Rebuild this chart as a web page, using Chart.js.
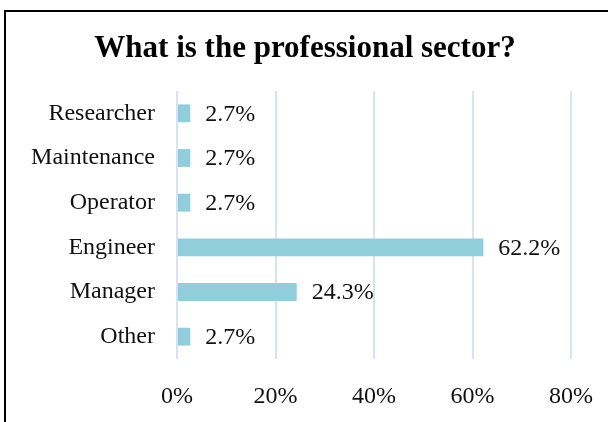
<!DOCTYPE html>
<html>
<head>
<meta charset="utf-8">
<script src="https://cdn.jsdelivr.net/npm/chart.js@4"></script>
<style>
    html, body {
        margin: 0;
        padding: 0;
        background: #ffffff;
        overflow: hidden;
    }
    #frame {
        position: absolute;
        left: 4px;
        top: 10px;
        width: 700px;
        height: 500px;
        border: 2px solid #000000;
    }
    #wrap {
        position: absolute;
        left: 0;
        top: 0;
        width: 608px;
        height: 422px;
    }
</style>
</head>
<body>
<div id="frame"></div>
<div id="wrap"><canvas id="chart" width="608" height="422"></canvas></div>
<script>
const categories = ["Researcher", "Maintenance", "Operator", "Engineer", "Manager", "Other"];
const shares = [2.7, 2.7, 2.7, 62.2, 24.3, 2.7];
const tickValues = [0, 20, 40, 60, 80];

const chartTitle = "What is the professional sector?";
const serif = "'Liberation Serif', 'Times New Roman', serif";

function formatPercent(value) {
    return value.toFixed(1) + "%";
}

// title centred on the whole frame, not just the plot
const frameTitle = {
    id: "frameTitle",
    afterDraw(chart) {
        const ctx = chart.ctx;

        ctx.save();
        ctx.font = "bold 31px " + serif;
        ctx.fillStyle = "#000000";
        ctx.textAlign = "center";
        ctx.textBaseline = "middle";
        ctx.fillText(chartTitle, 305, 49);
        ctx.restore();
    },
};

// writes the value to the right of each bar
const valueLabels = {
    id: "valueLabels",
    afterDatasetsDraw(chart) {
        const ctx = chart.ctx;
        const meta = chart.getDatasetMeta(0);

        ctx.save();
        ctx.font = "24px " + serif;
        ctx.fillStyle = "#111111";
        ctx.textAlign = "left";
        ctx.textBaseline = "middle";
        meta.data.forEach((bar, i) => {
            ctx.fillText(formatPercent(shares[i]), bar.x + 15, bar.y + 1);
        });
        ctx.restore();
    },
};

const ctx = document.getElementById("chart").getContext("2d");

new Chart(ctx, {
    type: "bar",
    data: {
        labels: categories,
        datasets: [
            {
                data: shares,
                backgroundColor: "#92CDDC",
                barPercentage: 0.4,
                categoryPercentage: 1,
            },
        ],
    },
    options: {
        indexAxis: "y",
        responsive: false,
        animation: false,
        layout: {
            padding: { left: 0, right: 37, top: 91, bottom: 0 },
        },
        plugins: {
            legend: { display: false },
            tooltip: { enabled: false },
            title: { display: false },
        },
        scales: {
            x: {
                min: 0,
                max: 80,
                afterBuildTicks(scale) {
                    scale.ticks = tickValues.map((v) => ({ value: v }));
                },
                afterFit(scale) {
                    scale.height = 63;
                    scale.paddingRight = 0;
                },
                grid: {
                    color: "#D6E2F5",
                    lineWidth: 2,
                    drawTicks: false,
                },
                border: { display: false },
                ticks: {
                    padding: 23,
                    minRotation: 0,
                    maxRotation: 0,
                    color: "#111111",
                    font: { family: serif, size: 24 },
                    callback: (value) => value + "%",
                },
            },
            y: {
                afterFit(scale) {
                    scale.width = 177;
                },
                grid: { display: false },
                border: { display: false },
                ticks: {
                    padding: 14,
                    color: "#111111",
                    font: { family: serif, size: 24 },
                },
            },
        },
    },
    plugins: [valueLabels, frameTitle],
});
</script>
</body>
</html>
